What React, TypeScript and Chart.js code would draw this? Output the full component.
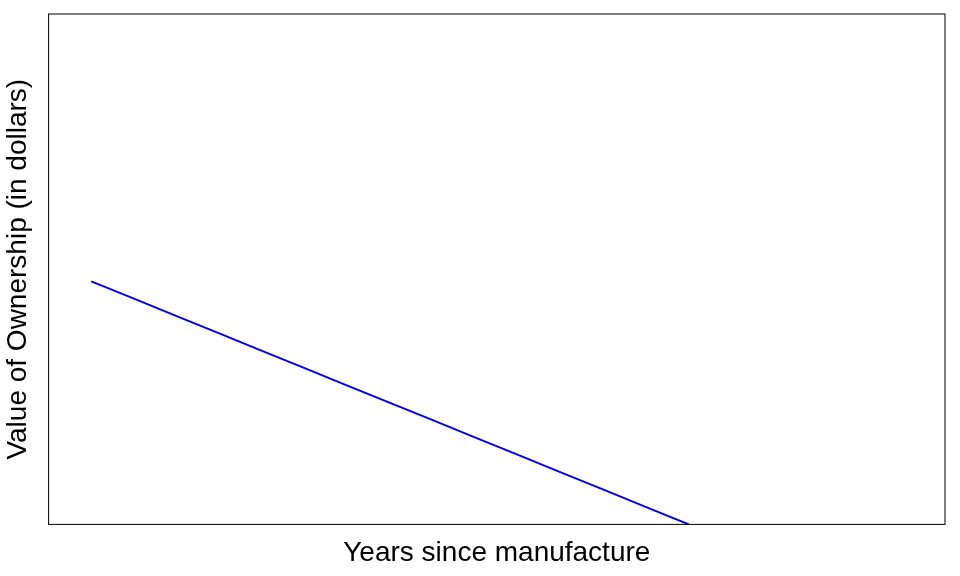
import React, { useEffect, useRef } from 'react';
import Chart from 'chart.js/auto';

const years = [0, 1, 2, 3, 4, 5, 6, 7, 8, 9, 10, 11, 12, 13, 14];
const values = [10000, 9290, 8570, 7860, 7140, 6430, 5710, 5000, 4290, 3570, 2860, 2140, 1430, 710, 0];

const boxPlugin = {
  id: 'box',
  afterDraw(chart: any) {
    const { ctx, chartArea: a } = chart;
    ctx.save();
    ctx.strokeStyle = '#000';
    ctx.lineWidth = 1;
    ctx.strokeRect(a.left, a.top, a.right - a.left, a.bottom - a.top);
    ctx.restore();
  },
};

const App: React.FC = () => {
  const canvasRef = useRef<HTMLCanvasElement>(null);

  useEffect(() => {
    const chart = new Chart(canvasRef.current!, {
      type: 'line',
      data: {
        datasets: [
          {
            data: years.map((x, i) => ({ x, y: values[i] })),
            borderColor: '#0000ee',
            borderWidth: 2,
            pointRadius: 0,
            tension: 0,
          },
        ],
      },
      options: {
        animation: false,
        responsive: false,
        layout: { padding: { left: 1, top: 14, right: 15, bottom: 6 } },
        plugins: { legend: { display: false }, tooltip: { enabled: false } },
        scales: {
          x: {
            type: 'linear',
            min: -1,
            max: 20,
            grid: { display: false },
            border: { display: false },
            ticks: { display: false },
            title: {
              display: true,
              text: 'Years since manufacture',
              color: '#000',
              font: { family: 'Liberation Sans', size: 28 },
              padding: { top: 4, bottom: 0 },
            },
          },
          y: {
            min: 0,
            max: 21000,
            grid: { display: false },
            border: { display: false },
            ticks: { display: false },
            title: {
              display: true,
              text: 'Value of Ownership (in dollars)',
              color: '#000',
              font: { family: 'Liberation Sans', size: 28 },
              padding: { top: 0, bottom: 6 },
            },
          },
        },
      },
      plugins: [boxPlugin],
    });
    return () => chart.destroy();
  }, []);

  return (
    <div style={{ position: 'absolute', left: 0, top: 0, width: 960, height: 576, background: '#fff' }}>
      <canvas ref={canvasRef} width={960} height={576} />
    </div>
  );
};

export default App;
